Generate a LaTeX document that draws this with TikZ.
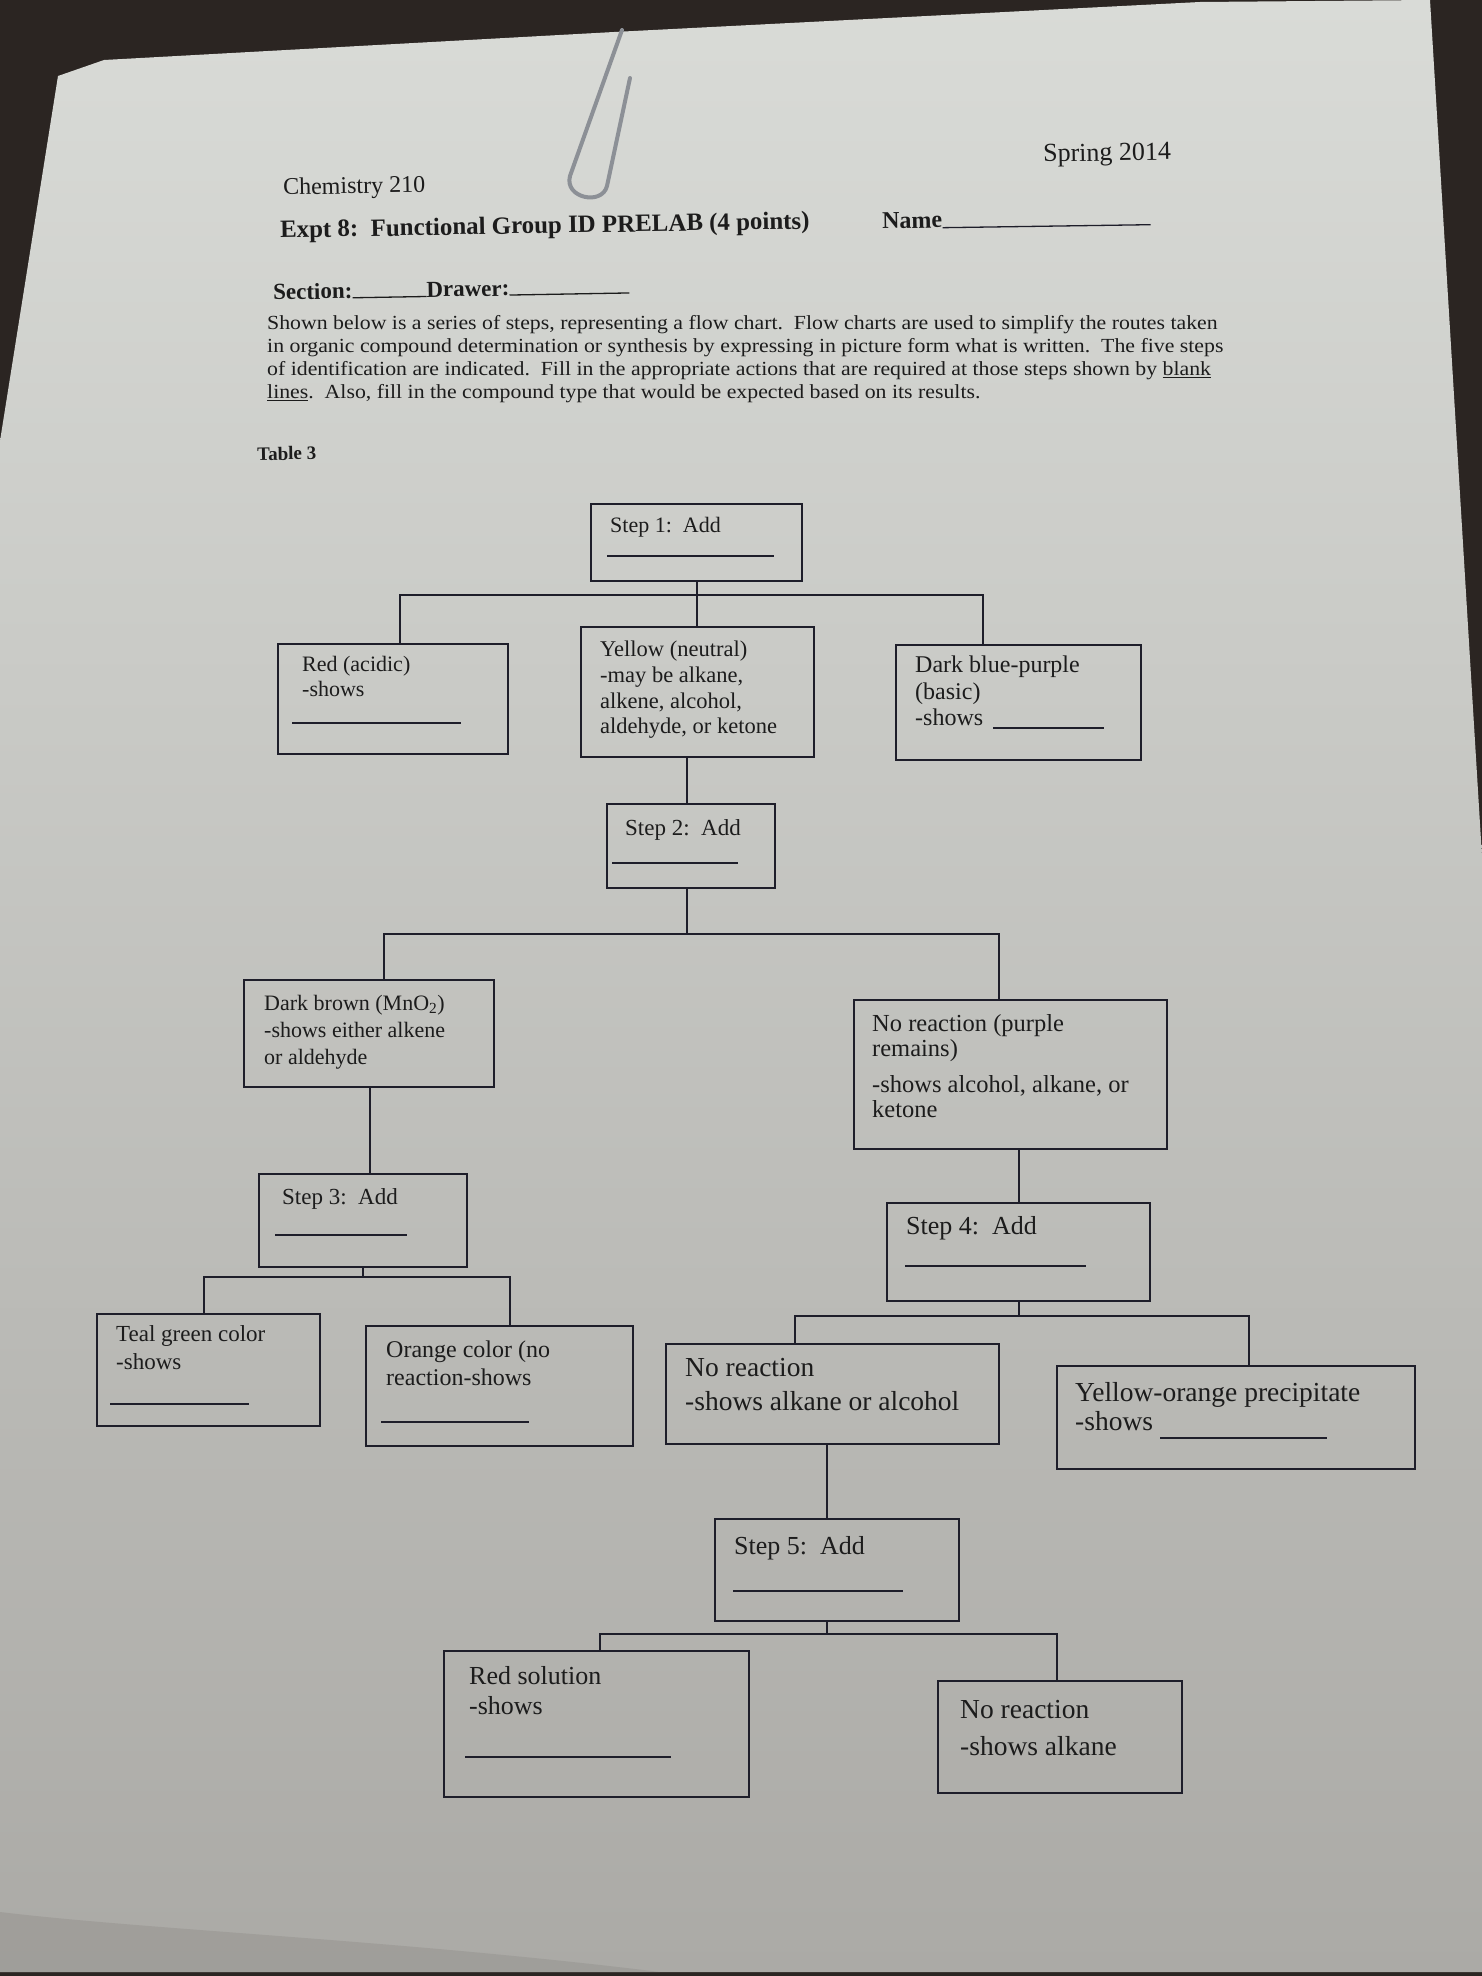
\documentclass[tikz,border=0pt]{standalone}
\usepackage{fontspec}
\setmainfont{Liberation Serif}
\newfontfamily\parafont{Liberation Serif}[FakeStretch=1.09]
\definecolor{ink}{HTML}{1E1E2A}
\definecolor{txtc}{HTML}{1C1C1C}
\definecolor{darkbg}{HTML}{2B2522}
\definecolor{papertop}{HTML}{D9DBD7}
\definecolor{paperbot}{HTML}{ABAAA6}
\definecolor{clipcol}{HTML}{8C9096}
\definecolor{fold}{HTML}{8E8C88}
\newcommand{\fs}[2]{\fontsize{#1}{#2}\selectfont}
\begin{document}
\begin{tikzpicture}[x=1pt,y=-1pt,
  boxst/.style={draw=ink, line width=2.4pt, inner sep=0pt, anchor=north west},
  conn/.style={draw=ink, line width=2.4pt},
  blank/.style={draw=ink, line width=1.3pt},
  txt/.style={anchor=north west, inner sep=0pt, align=left, text=txtc},
  hd/.style={anchor=west, inner sep=0pt, text=txtc, rotate=1},
  pl/.style={anchor=west, inner sep=0pt, text=txtc, font=\parafont\fs{20}{22}},
]
\useasboundingbox (0,0) rectangle (1482,1976);
% background photo
\fill[darkbg] (0,0) rectangle (1482,1976);
\shade[top color=papertop, bottom color=paperbot]
  (0,441) -- (58,76) -- (104,60) -- (614,32) -- (1200,2) -- (1430,0)
  -- (1482,857) -- (1482,1972) -- (0,1972) -- cycle;
\fill[fold, opacity=0.4] (0,1912) .. controls (150,1930) and (400,1940) .. (660,1972) -- (0,1972) -- cycle;
% paper clip
\draw[draw=clipcol, line width=4pt, line cap=round]
  (622,30) -- (570,176) .. controls (564,198) and (602,206) .. (607,186) -- (630,78);

% header
\node[hd, font=\fs{24}{28}] (chem) at (283,189) {Chemistry 210};
\node[hd, font=\fs{26}{30}] (spring) at (1043,156) {Spring 2014};
\node[hd, font=\fs{24.9}{28}\bfseries] (expt) at (280,232) {Expt 8:\ \ Functional Group ID PRELAB (4 points)};
\node[hd, font=\fs{24}{28}\bfseries] (name) at (882,221) {Name};
\draw[blank] (name.base east) -- ++(208,-3);
\node[hd, font=\fs{23}{27}\bfseries] (sect) at (273,292) {Section:\rule{74pt}{1.3pt}Drawer:\rule{120pt}{1.3pt}};
\node[pl] (p1) at (267,325) {Shown below is a series of steps, representing a flow chart.\ \ Flow charts are used to simplify the routes taken};
\node[pl] (p2) at (267,348) {in organic compound determination or synthesis by expressing in picture form what is written.\ \ The five steps};
\node[pl] (p3) at (267,371) {of identification are indicated.\ \ Fill in the appropriate actions that are required at those steps shown by \underline{blank}};
\node[pl] (p4) at (267,394) {\underline{lines}.\ \ Also, fill in the compound type that would be expected based on its results.};
\node[hd, font=\fs{19}{22}\bfseries] (tab) at (257,454) {Table 3};

% boxes
\node[boxst, minimum width=211pt, minimum height=77pt]  (s1)   at (590,503)  {};
\node[boxst, minimum width=230pt, minimum height=110pt] (red)  at (277,643)  {};
\node[boxst, minimum width=233pt, minimum height=130pt] (yel)  at (580,626)  {};
\node[boxst, minimum width=245pt, minimum height=115pt] (dbl)  at (895,644)  {};
\node[boxst, minimum width=168pt, minimum height=84pt]  (s2)   at (606,803)  {};
\node[boxst, minimum width=250pt, minimum height=107pt] (dbr)  at (243,979)  {};
\node[boxst, minimum width=313pt, minimum height=149pt] (nrp)  at (853,999)  {};
\node[boxst, minimum width=208pt, minimum height=93pt]  (s3)   at (258,1173) {};
\node[boxst, minimum width=263pt, minimum height=98pt]  (s4)   at (886,1202) {};
\node[boxst, minimum width=223pt, minimum height=112pt] (teal) at (96,1313)  {};
\node[boxst, minimum width=267pt, minimum height=120pt] (org)  at (365,1325) {};
\node[boxst, minimum width=333pt, minimum height=100pt] (nrl)  at (665,1343) {};
\node[boxst, minimum width=358pt, minimum height=103pt] (yo)   at (1056,1365) {};
\node[boxst, minimum width=244pt, minimum height=102pt] (s5)   at (714,1518) {};
\node[boxst, minimum width=305pt, minimum height=146pt] (rsol) at (443,1650) {};
\node[boxst, minimum width=244pt, minimum height=112pt] (nra)  at (937,1680) {};

% box texts
\node[txt, font=\fs{22}{26}]     (t1)  at (610,517)  {Step 1:\enspace Add};
\node[txt, font=\fs{22}{25.5}]   (tr)  at (302,656)  {Red (acidic)\\-shows};
\node[txt, font=\fs{22.5}{25.6}] (ty)  at (600,641)  {Yellow (neutral)\\-may be alkane,\\alkene, alcohol,\\aldehyde, or ketone};
\node[txt, font=\fs{24}{26.5}]   (tb)  at (915,656)  {Dark blue-purple\\(basic)\\-shows};
\node[txt, font=\fs{23}{27}]     (t2)  at (625,819)  {Step 2:\enspace Add};
\node[txt, font=\fs{22}{27}]     (tdb) at (264,995)  {Dark brown (MnO\textsubscript{2})\\-shows either alkene\\or aldehyde};
\node[txt, font=\fs{24.5}{25}]   (tnp) at (872,1014) {No reaction (purple\\remains)\\[11pt]-shows alcohol, alkane, or\\ketone};
\node[txt, font=\fs{23}{27}]     (t3)  at (282,1188) {Step 3:\enspace Add};
\node[txt, font=\fs{26}{30}]     (t4)  at (906,1216) {Step 4:\enspace Add};
\node[txt, font=\fs{23}{28}]     (tt)  at (116,1325) {Teal green color\\-shows};
\node[txt, font=\fs{24}{28}]     (to)  at (386,1341) {Orange color (no\\reaction-shows};
\node[txt, font=\fs{27.5}{34}]   (tnl) at (685,1358) {No reaction\\-shows alkane or alcohol};
\node[txt, font=\fs{27.5}{29}]   (tyo) at (1075,1382) {Yellow-orange precipitate\\-shows};
\node[txt, font=\fs{26}{30}]     (t5)  at (734,1536) {Step 5:\enspace Add};
\node[txt, font=\fs{26}{30}]     (trs) at (469,1666) {Red solution\\-shows};
\node[txt, font=\fs{27.5}{37}]   (tna) at (960,1700) {No reaction\\-shows alkane};

% blanks
\draw[blank] (607,556) -- (774,556);
\draw[blank] (292,723) -- (461,723);
\draw[blank] (993,728) -- (1104,728);
\draw[blank] (612,863) -- (738,863);
\draw[blank] (275,1235) -- (407,1235);
\draw[blank] (905,1266) -- (1086,1266);
\draw[blank] (110,1404) -- (249,1404);
\draw[blank] (381,1422) -- (529,1422);
\draw[blank] (1160,1438) -- (1327,1438);
\draw[blank] (733,1591) -- (903,1591);
\draw[blank] (465,1757) -- (671,1757);

% connectors
\coordinate (b1l) at (400,595);  \coordinate (b1r) at (983,595);
\draw[conn] (s1.south) -- (s1.south |- yel.north);
\draw[conn] (b1l |- red.north) -- (b1l) -- (b1r) -- (b1r |- dbl.north);

\coordinate (c2) at (687,0);
\draw[conn] (c2 |- yel.south) -- (c2 |- s2.north);
\coordinate (b2l) at (384,934);  \coordinate (b2r) at (999,934);
\coordinate (b2m) at (687,934);
\draw[conn] (c2 |- s2.south) -- (b2m);
\draw[conn] (b2l |- dbr.north) -- (b2l) -- (b2r) -- (b2r |- nrp.north);

\coordinate (c3) at (370,0);
\draw[conn] (c3 |- dbr.south) -- (c3 |- s3.north);
\coordinate (b3l) at (204,1277); \coordinate (b3r) at (510,1277);
\draw[conn] (s3.south) -- (s3.south |- b3l);
\draw[conn] (b3l |- teal.north) -- (b3l) -- (b3r) -- (b3r |- org.north);

\draw[conn] (s4.north |- nrp.south) -- (s4.north);
\coordinate (b4l) at (795,1316); \coordinate (b4r) at (1249,1316);
\draw[conn] (s4.south) -- (s4.south |- b4l);
\draw[conn] (b4l |- nrl.north) -- (b4l) -- (b4r) -- (b4r |- yo.north);

\coordinate (c5) at (827,0);
\draw[conn] (c5 |- nrl.south) -- (c5 |- s5.north);
\coordinate (b5l) at (600,1634); \coordinate (b5r) at (1057,1634);
\coordinate (b5m) at (827,1634);
\draw[conn] (c5 |- s5.south) -- (b5m);
\draw[conn] (b5l |- rsol.north) -- (b5l) -- (b5r) -- (b5r |- nra.north);
\end{tikzpicture}
\end{document}
